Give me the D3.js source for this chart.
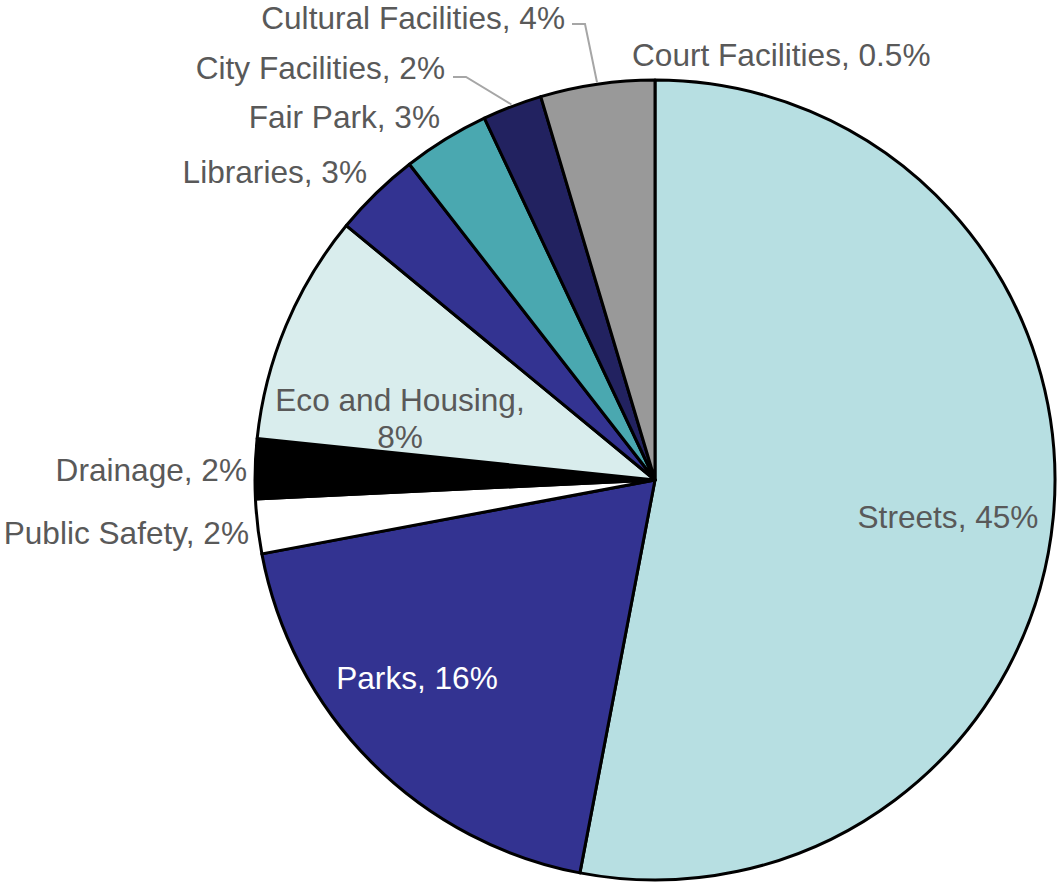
<!DOCTYPE html>
<html><head><meta charset="utf-8">
<script src="https://cdn.jsdelivr.net/npm/d3@7"></script>
<style>body{margin:0;background:#fff}svg{display:block}text{font-family:"Liberation Sans",Arial,sans-serif}</style>
</head><body>
<svg id="c" width="1058" height="882"></svg>
<script>
const categories = ["Streets","Parks","Public Safety","Drainage","Eco and Housing","Libraries","Fair Park","City Facilities","Cultural Facilities","Court Facilities"];
const values = [52.9, 19.0, 2.2, 2.4, 9.3, 3.5, 3.5, 2.4, 4.6, 0];
const labelPct = ["45%","16%","2%","2%","8%","3%","3%","2%","4%","0.5%"];
const colors = ["#b7dfe2","#333391","#ffffff","#000000","#d9eded","#333391","#4aa8b0","#222260","#999999","#cccccc"];

// label layout (style, not data)
const labelLayout = {
  "Streets":            {x:948, y:517, anchor:"middle"},
  "Parks":              {x:417, y:678, anchor:"middle", fill:"#ffffff"},
  "Public Safety":      {x:249, y:533, anchor:"end"},
  "Drainage":           {x:247, y:470, anchor:"end"},
  "Eco and Housing":    {x:400, y:400, anchor:"middle", twoLine:true},
  "Libraries":          {x:367, y:172, anchor:"end"},
  "Fair Park":          {x:440, y:117, anchor:"end"},
  "City Facilities":    {x:445, y:68,  anchor:"end", leader:[[453,77],[466,77]]},
  "Cultural Facilities":{x:565, y:18,  anchor:"end", leader:[[572,24],[585,24]]},
  "Court Facilities":   {x:632, y:55,  anchor:"start"}
};

const svg = d3.select("#c");
const cx = 655, cy = 480, r = 400;
const g = svg.append("g").attr("transform", `translate(${cx},${cy})`);
const data = categories.map((c,i)=>({cat:c, value:values[i], pct:labelPct[i], color:colors[i]}));
const pie = d3.pie().sort(null).value(d=>d.value);
const arcs = pie(data);
const arc = d3.arc().innerRadius(0).outerRadius(r);

g.selectAll("path").data(arcs.filter(a=>a.endAngle>a.startAngle)).join("path")
  .attr("d", arc).attr("fill", d=>d.data.color)
  .attr("stroke","#000").attr("stroke-width",3).attr("stroke-linejoin","round");

// leader lines
arcs.forEach(a=>{
  const L = labelLayout[a.data.cat];
  if(!L.leader) return;
  const mid = (a.startAngle+a.endAngle)/2;
  const px = cx + Math.sin(mid)*(r+2), py = cy - Math.cos(mid)*(r+2);
  const pts = L.leader.concat([[px,py]]);
  svg.append("path").attr("d", d3.line()(pts)).attr("fill","none")
    .attr("stroke","#a6a6a6").attr("stroke-width",2);
});

// labels
arcs.forEach(a=>{
  const L = labelLayout[a.data.cat];
  const t = svg.append("text").attr("text-anchor",L.anchor)
    .attr("font-size",31.6).attr("fill",L.fill||"#595959")
    .attr("dominant-baseline","central");
  if(L.twoLine){
    t.append("tspan").attr("x",L.x).attr("y",L.y).text(a.data.cat+",");
    t.append("tspan").attr("x",L.x).attr("y",L.y+37).text(a.data.pct);
  } else {
    t.attr("x",L.x).attr("y",L.y).text(`${a.data.cat}, ${a.data.pct}`);
  }
});
</script>
</body></html>
